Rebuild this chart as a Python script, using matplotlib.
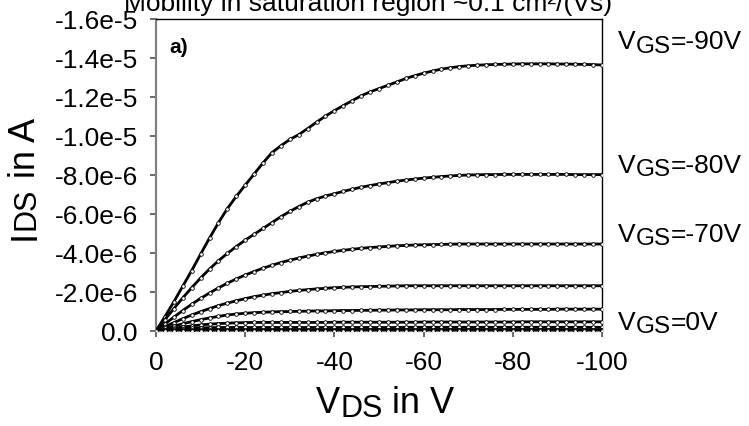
import numpy as np
import matplotlib.pyplot as plt
from matplotlib import transforms

plt.rcParams['font.family'] = ['Liberation Sans', 'DejaVu Sans']

# drain sweep, 0 .. -100 V in 2 V steps
vds = np.arange(0, -101, -2)

# |I_DS| in uA, one list per gate voltage
ids_m90 = [0.00, 0.74, 1.50, 2.30, 3.10, 3.94, 4.77, 5.55, 6.28, 6.90, 7.48,
           8.05, 8.62, 9.15, 9.50, 9.82, 10.07, 10.38, 10.71, 11.02, 11.30,
           11.56, 11.81, 12.06, 12.26, 12.43, 12.60, 12.77, 12.95, 13.09, 13.22,
           13.33, 13.43, 13.50, 13.56, 13.60, 13.63, 13.65, 13.67, 13.68, 13.69,
           13.70, 13.70, 13.70, 13.70, 13.69, 13.69, 13.68, 13.67, 13.66, 13.64]
ids_m80 = [0.00, 0.58, 1.15, 1.70, 2.22, 2.72, 3.18, 3.60, 3.98, 4.33, 4.66,
           4.96, 5.26, 5.56, 5.86, 6.13, 6.38, 6.60, 6.78, 6.92, 7.04,
           7.16, 7.27, 7.37, 7.46, 7.54, 7.61, 7.68, 7.74, 7.79, 7.84,
           7.88, 7.92, 7.95, 7.98, 8.00, 8.01, 8.02, 8.02, 8.03, 8.03,
           8.03, 8.03, 8.03, 8.03, 8.03, 8.03, 8.02, 8.02, 8.02, 8.02]
ids_m70 = [0.00, 0.36, 0.71, 1.05, 1.37, 1.67, 1.95, 2.21, 2.45, 2.67, 2.87,
           3.05, 3.22, 3.37, 3.51, 3.63, 3.74, 3.84, 3.93, 4.01, 4.08,
           4.14, 4.19, 4.24, 4.28, 4.31, 4.34, 4.37, 4.39, 4.41, 4.42,
           4.43, 4.44, 4.45, 4.46, 4.46, 4.46, 4.46, 4.46, 4.46, 4.46,
           4.46, 4.46, 4.46, 4.46, 4.46, 4.46, 4.46, 4.46, 4.46, 4.46]
ids_m60 = [0.00, 0.22, 0.43, 0.63, 0.82, 0.99, 1.15, 1.30, 1.43, 1.55, 1.66,
           1.76, 1.84, 1.91, 1.97, 2.03, 2.08, 2.12, 2.16, 2.19, 2.22,
           2.24, 2.26, 2.27, 2.28, 2.29, 2.30, 2.31, 2.32, 2.32, 2.32,
           2.32, 2.32, 2.32, 2.32, 2.32, 2.32, 2.32, 2.32, 2.32, 2.32,
           2.32, 2.32, 2.32, 2.32, 2.32, 2.32, 2.32, 2.32, 2.32, 2.32]
ids_m50 = [0.00, 0.13, 0.25, 0.37, 0.48, 0.58, 0.67, 0.75, 0.82, 0.87, 0.91,
           0.94, 0.96, 0.98, 0.99, 1.00, 1.01, 1.02, 1.03, 1.03, 1.04,
           1.05, 1.05, 1.06, 1.06, 1.07, 1.07, 1.08, 1.08, 1.08, 1.09,
           1.09, 1.09, 1.09, 1.10, 1.10, 1.10, 1.10, 1.10, 1.11, 1.11,
           1.11, 1.11, 1.11, 1.11, 1.12, 1.12, 1.12, 1.12, 1.12, 1.12]
ids_m40 = [0.00, 0.07, 0.14, 0.20, 0.26, 0.31, 0.35, 0.38, 0.40, 0.42, 0.43,
           0.44, 0.44, 0.44, 0.44, 0.44, 0.44, 0.44, 0.44, 0.44, 0.45,
           0.45, 0.45, 0.45, 0.45, 0.45, 0.45, 0.45, 0.45, 0.45, 0.46,
           0.46, 0.46, 0.46, 0.46, 0.46, 0.46, 0.46, 0.46, 0.46, 0.46,
           0.47, 0.47, 0.47, 0.47, 0.47, 0.47, 0.47, 0.47, 0.47, 0.47]
ids_m30 = [0.00, 0.04, 0.08, 0.11, 0.14, 0.16, 0.17, 0.18, 0.18, 0.18, 0.18,
           0.18, 0.18, 0.18, 0.18, 0.18, 0.18, 0.18, 0.18, 0.18, 0.18,
           0.18, 0.18, 0.18, 0.18, 0.18, 0.18, 0.18, 0.19, 0.19, 0.19,
           0.19, 0.19, 0.19, 0.19, 0.19, 0.19, 0.19, 0.19, 0.19, 0.19,
           0.19, 0.19, 0.19, 0.19, 0.19, 0.19, 0.19, 0.19, 0.19, 0.19]
ids_m20 = [0.00, 0.02, 0.04, 0.05, 0.06, 0.06, 0.06, 0.06, 0.06, 0.06, 0.06,
           0.06, 0.06, 0.06, 0.06, 0.06, 0.06, 0.06, 0.06, 0.06, 0.06,
           0.06, 0.06, 0.06, 0.06, 0.07, 0.07, 0.07, 0.07, 0.07, 0.07,
           0.07, 0.07, 0.07, 0.07, 0.07, 0.07, 0.07, 0.07, 0.07, 0.07,
           0.07, 0.07, 0.07, 0.07, 0.07, 0.07, 0.07, 0.07, 0.07, 0.07]
ids_m10 = [0.00, 0.01, 0.02, 0.02, 0.02, 0.02, 0.02, 0.02, 0.02, 0.02, 0.02,
           0.02, 0.02, 0.02, 0.02, 0.02, 0.02, 0.02, 0.02, 0.02, 0.02,
           0.02, 0.02, 0.03, 0.03, 0.03, 0.03, 0.03, 0.03, 0.03, 0.03,
           0.03, 0.03, 0.03, 0.03, 0.03, 0.03, 0.03, 0.03, 0.03, 0.03,
           0.03, 0.03, 0.03, 0.03, 0.03, 0.03, 0.03, 0.03, 0.03, 0.03]
ids_0 = [0.00, 0.01, 0.01, 0.01, 0.01, 0.01, 0.01, 0.01, 0.01, 0.01, 0.01,
         0.01, 0.01, 0.01, 0.01, 0.01, 0.01, 0.01, 0.01, 0.01, 0.01,
         0.01, 0.01, 0.01, 0.01, 0.01, 0.01, 0.01, 0.01, 0.01, 0.01,
         0.01, 0.01, 0.01, 0.01, 0.01, 0.01, 0.01, 0.01, 0.01, 0.01,
         0.01, 0.01, 0.01, 0.01, 0.01, 0.01, 0.01, 0.01, 0.01, 0.01]

curves = [ids_m90, ids_m80, ids_m70, ids_m60, ids_m50,
          ids_m40, ids_m30, ids_m20, ids_m10, ids_0]

# gate-voltage labels on the right side (value text, baseline in uA)
vgs_labels = ['-90V', '-80V', '-70V', '0V']
vgs_label_y = [14.5, 8.15, 4.62, 0.10]

yticks = [-1.6e-5, -1.4e-5, -1.2e-5, -1.0e-5, -8.0e-6, -6.0e-6,
          -4.0e-6, -2.0e-6, 0.0]
ytick_labels = ['-1.6e-5', '-1.4e-5', '-1.2e-5', '-1.0e-5', '-8.0e-6',
                '-6.0e-6', '-4.0e-6', '-2.0e-6', '0.0']
xticks = [0, -20, -40, -60, -80, -100]
xtick_labels = ['0', '-20', '-40', '-60', '-80', '-100']


def sub_text(first, parts, size, subsize, drop, rotation=0):
    """Chain text pieces: plain, lowered subscript, plain again."""
    prev = first
    for k, (s, is_sub) in enumerate(parts):
        back = drop if k > 0 and parts[k - 1][1] else 0
        if rotation == 0:
            off = (0, -drop) if is_sub else (0, back)
            xy = (1, 0)
        else:
            off = (drop, 0) if is_sub else (-back, 0)
            xy = (0, 1)
        prev = plt.annotate(s, xy=xy, xycoords=prev, xytext=off,
                            textcoords='offset points', ha='left', va='bottom',
                            rotation=rotation,
                            fontsize=subsize if is_sub else size,
                            annotation_clip=False)
    return prev


fig = plt.figure(figsize=(7.49, 4.27), dpi=100)
ax = fig.add_axes([0.2083, 0.2225, 0.5954, 0.7307])

for ids in curves:
    ax.plot(vds, np.array(ids) * -1e-6, color='black', lw=2.0,
            marker='o', ms=2.6, mfc='white', mec='black', mew=0.6,
            solid_joinstyle='round', zorder=3)

ax.set_xlim(0, -100)
ax.set_ylim(0, -1.6e-5)
ax.set_xticks(xticks)
ax.set_xticklabels(xtick_labels)
ax.set_yticks(yticks)
ax.set_yticklabels(ytick_labels)
ax.tick_params(axis='both', direction='out', length=4, width=1.2,
               color='#505050', labelsize=19)
ax.tick_params(axis='x', pad=10)
ax.tick_params(axis='y', pad=9)

for side in ['left', 'bottom']:
    ax.spines[side].set_color('#808080')
    ax.spines[side].set_linewidth(1.6)
for side in ['top', 'right']:
    ax.spines[side].set_color('black')
    ax.spines[side].set_linewidth(1.0)

ax.text(0.031, 0.913, 'a)', transform=ax.transAxes, fontsize=15,
        fontweight='bold', ha='left', va='center')

# V_GS labels right of the frame
trans = transforms.blended_transform_factory(ax.transAxes, ax.transData)
for lab, yv in zip(vgs_labels, vgs_label_y):
    t = ax.text(1.036, -yv * 1e-6, 'V', transform=trans, fontsize=19,
                ha='left', va='baseline', clip_on=False)
    sub_text(t, [('GS', True), ('=' + lab, False)], 19, 17.5, 2.4)

# axis labels with lowered subscripts
tx = fig.text(316 / 749, 1 - 413 / 427, 'V', fontsize=26, ha='left', va='baseline')
sub_text(tx, [('DS', True), (' in V', False)], 26, 22, 2.2)

ty = fig.text(8 / 749, 1 - 240 / 427, 'I', fontsize=26, rotation=90,
              ha='left', va='bottom')
sub_text(ty, [('DS', True), (' in A', False)], 26, 22, 2.2, rotation=90)

fig.text(368 / 749, 1 - 11 / 427, 'Mobility in saturation region ~0.1 cm\u00b2/(Vs)',
         fontsize=19, ha='center', va='baseline')

fig.savefig('out.png', dpi=100)
